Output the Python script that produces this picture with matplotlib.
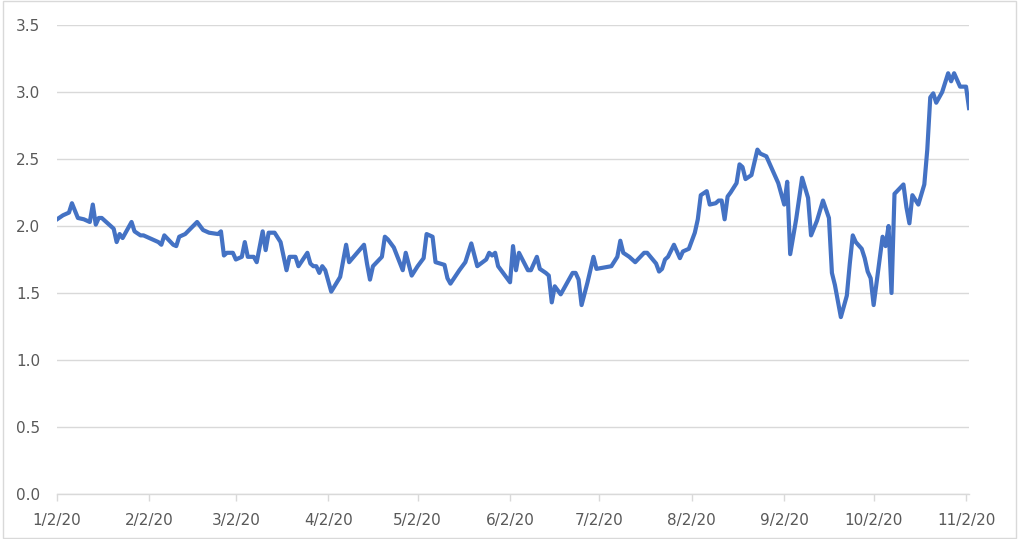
import numpy as np
import pandas as pd
import matplotlib
matplotlib.use("Agg")
import matplotlib.pyplot as plt
import matplotlib.dates as mdates
from matplotlib.patches import Rectangle

# values
dates = [
    "2020-01-02", "2020-01-04", "2020-01-06", "2020-01-07", "2020-01-09", "2020-01-11",
    "2020-01-13", "2020-01-14", "2020-01-15", "2020-01-16", "2020-01-17", "2020-01-21",
    "2020-01-22", "2020-01-23", "2020-01-24", "2020-01-27", "2020-01-28", "2020-01-30",
    "2020-01-31", "2020-02-01", "2020-02-03", "2020-02-05", "2020-02-06", "2020-02-07",
    "2020-02-10", "2020-02-11", "2020-02-12", "2020-02-14", "2020-02-18", "2020-02-20",
    "2020-02-22", "2020-02-25", "2020-02-26", "2020-02-27", "2020-02-28", "2020-03-01",
    "2020-03-02", "2020-03-04", "2020-03-05", "2020-03-06", "2020-03-08", "2020-03-09",
    "2020-03-11", "2020-03-12", "2020-03-13", "2020-03-15", "2020-03-17", "2020-03-19",
    "2020-03-20", "2020-03-22", "2020-03-23", "2020-03-26", "2020-03-27", "2020-03-28",
    "2020-03-29", "2020-03-30", "2020-03-31", "2020-04-01", "2020-04-03", "2020-04-06",
    "2020-04-08", "2020-04-09", "2020-04-14", "2020-04-15", "2020-04-16", "2020-04-17",
    "2020-04-20", "2020-04-21", "2020-04-22", "2020-04-24", "2020-04-27", "2020-04-28",
    "2020-04-30", "2020-05-02", "2020-05-04", "2020-05-05", "2020-05-07", "2020-05-08",
    "2020-05-11", "2020-05-12", "2020-05-13", "2020-05-16", "2020-05-18", "2020-05-20",
    "2020-05-22", "2020-05-25", "2020-05-26", "2020-05-27", "2020-05-28", "2020-05-29",
    "2020-06-02", "2020-06-03", "2020-06-04", "2020-06-05", "2020-06-08", "2020-06-09",
    "2020-06-11", "2020-06-12", "2020-06-14", "2020-06-15", "2020-06-16", "2020-06-17",
    "2020-06-19", "2020-06-23", "2020-06-24", "2020-06-25", "2020-06-26", "2020-06-28",
    "2020-06-30", "2020-07-01", "2020-07-06", "2020-07-08", "2020-07-09", "2020-07-10",
    "2020-07-12", "2020-07-14", "2020-07-17", "2020-07-18", "2020-07-21", "2020-07-22",
    "2020-07-23", "2020-07-24", "2020-07-25", "2020-07-27", "2020-07-29", "2020-07-30",
    "2020-08-01", "2020-08-03", "2020-08-04", "2020-08-05", "2020-08-07", "2020-08-08",
    "2020-08-10", "2020-08-11", "2020-08-12", "2020-08-13", "2020-08-14", "2020-08-15",
    "2020-08-17", "2020-08-18", "2020-08-19", "2020-08-20", "2020-08-22", "2020-08-24",
    "2020-08-25", "2020-08-27", "2020-08-29", "2020-08-31", "2020-09-02", "2020-09-03",
    "2020-09-04", "2020-09-06", "2020-09-08", "2020-09-10", "2020-09-11", "2020-09-13",
    "2020-09-15", "2020-09-17", "2020-09-18", "2020-09-19", "2020-09-21", "2020-09-23",
    "2020-09-24", "2020-09-25", "2020-09-26", "2020-09-28", "2020-09-29", "2020-09-30",
    "2020-10-01", "2020-10-02", "2020-10-05", "2020-10-06", "2020-10-07", "2020-10-08",
    "2020-10-09", "2020-10-12", "2020-10-13", "2020-10-14", "2020-10-15", "2020-10-17",
    "2020-10-19", "2020-10-20", "2020-10-21", "2020-10-22", "2020-10-23", "2020-10-25",
    "2020-10-27", "2020-10-28", "2020-10-29", "2020-10-31", "2020-11-02", "2020-11-03",
]
values = [
    2.05, 2.08, 2.10, 2.17, 2.06, 2.05,
    2.03, 2.16, 2.01, 2.06, 2.06, 1.98,
    1.88, 1.94, 1.91, 2.03, 1.96, 1.93,
    1.93, 1.92, 1.90, 1.88, 1.86, 1.93,
    1.86, 1.85, 1.92, 1.94, 2.03, 1.97,
    1.95, 1.94, 1.96, 1.78, 1.80, 1.80,
    1.75, 1.77, 1.88, 1.77, 1.77, 1.73,
    1.96, 1.82, 1.95, 1.95, 1.88, 1.67,
    1.77, 1.77, 1.70, 1.80, 1.72, 1.70,
    1.70, 1.65, 1.70, 1.67, 1.51, 1.62,
    1.86, 1.73, 1.86, 1.72, 1.60, 1.70,
    1.77, 1.92, 1.90, 1.84, 1.67, 1.80,
    1.63, 1.70, 1.76, 1.94, 1.92, 1.73,
    1.71, 1.61, 1.57, 1.67, 1.73, 1.87,
    1.70, 1.75, 1.80, 1.78, 1.80, 1.70,
    1.58, 1.85, 1.67, 1.80, 1.67, 1.67,
    1.77, 1.68, 1.65, 1.63, 1.43, 1.55,
    1.49, 1.65, 1.65, 1.60, 1.41, 1.58,
    1.77, 1.68, 1.70, 1.77, 1.89, 1.80,
    1.77, 1.73, 1.80, 1.80, 1.72, 1.66,
    1.68, 1.75, 1.77, 1.86, 1.76, 1.81,
    1.83, 1.95, 2.05, 2.23, 2.26, 2.16,
    2.17, 2.19, 2.19, 2.05, 2.22, 2.25,
    2.32, 2.46, 2.44, 2.35, 2.38, 2.57,
    2.54, 2.52, 2.42, 2.32, 2.16, 2.33,
    1.79, 2.05, 2.36, 2.21, 1.93, 2.04,
    2.19, 2.06, 1.65, 1.56, 1.32, 1.48,
    1.72, 1.93, 1.88, 1.83, 1.76, 1.66,
    1.61, 1.41, 1.92, 1.85, 2.00, 1.50,
    2.24, 2.31, 2.14, 2.02, 2.23, 2.16,
    2.31, 2.57, 2.96, 2.99, 2.92, 3.00,
    3.14, 3.08, 3.14, 3.04, 3.04, 2.88,
]
tick_dates = ["2020-01-02", "2020-02-02", "2020-03-02", "2020-04-02", "2020-05-02", "2020-06-02",
              "2020-07-02", "2020-08-02", "2020-09-02", "2020-10-02", "2020-11-02"]
tick_labels = ["1/2/20", "2/2/20", "3/2/20", "4/2/20", "5/2/20", "6/2/20",
               "7/2/20", "8/2/20", "9/2/20", "10/2/20", "11/2/20"]
y_ticks = [0.0, 0.5, 1.0, 1.5, 2.0, 2.5, 3.0, 3.5]

x = pd.to_datetime(dates)

fig = plt.figure(figsize=(10.24, 5.39), dpi=100)
ax = fig.add_axes([0.0557, 0.0835, 0.8906, 0.8701])

# outer chart border
fig.patches.append(Rectangle((0.003, 0.002), 0.989, 0.996, transform=fig.transFigure,
                             fill=False, edgecolor="#D9D9D9", linewidth=1))

ax.plot(x, values, color="#4472C4", linewidth=3.0, solid_joinstyle="round", zorder=3)

ax.set_ylim(0, 3.5)
ax.set_xlim(pd.Timestamp("2020-01-02"), pd.Timestamp("2020-11-03"))
ax.set_yticks(y_ticks)
ax.set_yticklabels([f"{v:.1f}" for v in y_ticks])
ax.set_xticks(pd.to_datetime(tick_dates))
ax.set_xticklabels(tick_labels)

ax.grid(axis="y", color="#D9D9D9", linewidth=1)
ax.set_axisbelow(True)
for s in ["top", "right", "left"]:
    ax.spines[s].set_visible(False)
ax.spines["bottom"].set_color("#D9D9D9")
ax.spines["bottom"].set_linewidth(1)

ax.tick_params(axis="y", length=0, pad=12, labelsize=11, labelcolor="#595959")
ax.tick_params(axis="x", length=5, width=1, color="#D9D9D9", pad=9,
               labelsize=11, labelcolor="#595959")

fig.savefig("out.png", dpi=100)
